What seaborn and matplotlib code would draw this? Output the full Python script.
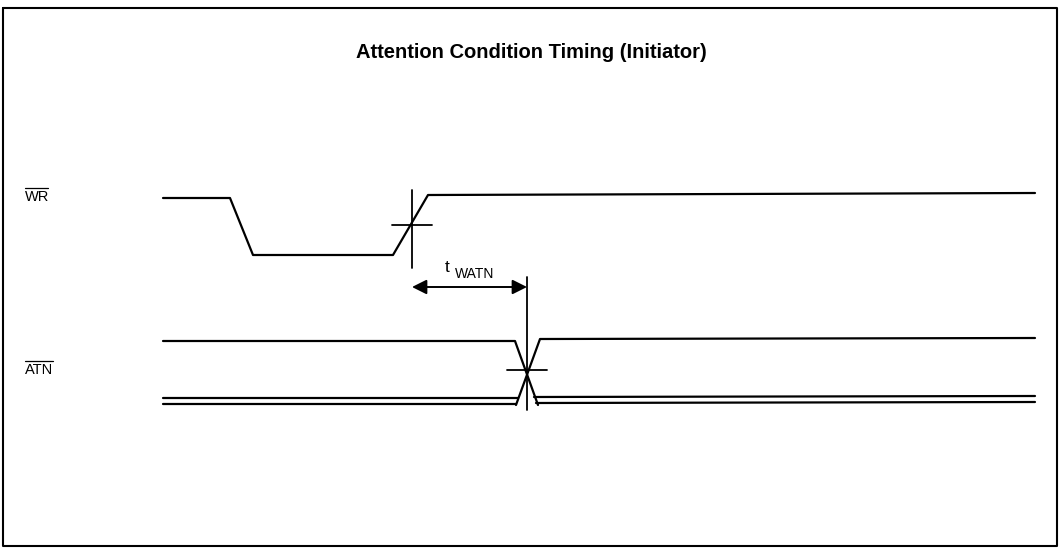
import numpy as np
import pandas as pd
import seaborn as sns
import matplotlib.pyplot as plt
from matplotlib.patches import FancyArrowPatch

sns.set_theme(style="white")
plt.rcParams['font.family'] = ['Liberation Sans', 'DejaVu Sans']
plt.rcParams['text.color'] = 'black'

# Waveform vertices (pixel-like units, y grows downward)
wr_x = [163, 230, 253, 393, 428, 1035]
wr_y = [198, 198, 255, 255, 195, 193]

atn_hi_x = [163, 515, 538]
atn_hi_y = [341, 341, 405]
atn_rise_x = [516, 540, 1035]
atn_rise_y = [405, 339, 338]
atn_lo1_x = [163, 518]
atn_lo1_y = [398, 398]
atn_lo2_x = [163, 516]
atn_lo2_y = [404, 404]
atn_lo3_x = [534, 1035]
atn_lo3_y = [397, 396]
atn_lo4_x = [536, 1035]
atn_lo4_y = [403, 402]

# Reference markers
wr_cross = (412, 225)
atn_cross = (527, 370)
arrow_y = 287

signal_labels = ["WR", "ATN"]
label_y = [197, 370]

traces = {
    "wr": (wr_x, wr_y),
    "atn_hi": (atn_hi_x, atn_hi_y),
    "atn_rise": (atn_rise_x, atn_rise_y),
    "atn_lo1": (atn_lo1_x, atn_lo1_y),
    "atn_lo2": (atn_lo2_x, atn_lo2_y),
    "atn_lo3": (atn_lo3_x, atn_lo3_y),
    "atn_lo4": (atn_lo4_x, atn_lo4_y),
}
rows = []
for name, (xs, ys) in traces.items():
    for i, (x, y) in enumerate(zip(xs, ys)):
        rows.append({"trace": name, "step": i, "x": x, "y": y})
df = pd.DataFrame(rows)

fig = plt.figure(figsize=(10.6, 5.49), dpi=100)
ax = fig.add_axes([0, 0, 1, 1])

sns.lineplot(data=df, x="x", y="y", units="trace", estimator=None, sort=False,
             color="black", linewidth=1.6, ax=ax, legend=False)

# Crossing markers
for (cx, cy), (top, bot) in zip([wr_cross, atn_cross], [(190, 268), (277, 410)]):
    ax.plot([cx, cx], [top, bot], color="black", lw=1.3)
    ax.plot([cx - 20, cx + 20], [cy, cy], color="black", lw=1.3)

# Dimension arrow
arr = FancyArrowPatch((wr_cross[0], arrow_y), (atn_cross[0], arrow_y),
                      arrowstyle="<|-|>", mutation_scale=22, color="black", lw=1.4,
                      shrinkA=0, shrinkB=0)
ax.add_patch(arr)
ax.text(445, 267, "t", fontsize=12.5, ha="left", va="center")
ax.text(455, 274, "WATN", fontsize=10, ha="left", va="center")

# Signal names with overbars
w_map = {"WR": 23, "ATN": 28}
for lab, ly in zip(signal_labels, label_y):
    ax.text(25, ly, lab, fontsize=10.5, ha="left", va="center")
    ax.plot([25, 25 + w_map[lab]], [ly - 9, ly - 9], color="black", lw=0.9)

ax.text(531, 53, "Attention Condition Timing (Initiator)", fontsize=14.5,
        fontweight="bold", ha="center", va="center")

# Frame
ax.plot([3, 1057, 1057, 3, 3], [8, 8, 546, 546, 8], color="black", lw=1.5)

ax.set_xlim(0, 1060)
ax.set_ylim(549, 0)
ax.axis("off")

fig.savefig("out.png", dpi=100)
